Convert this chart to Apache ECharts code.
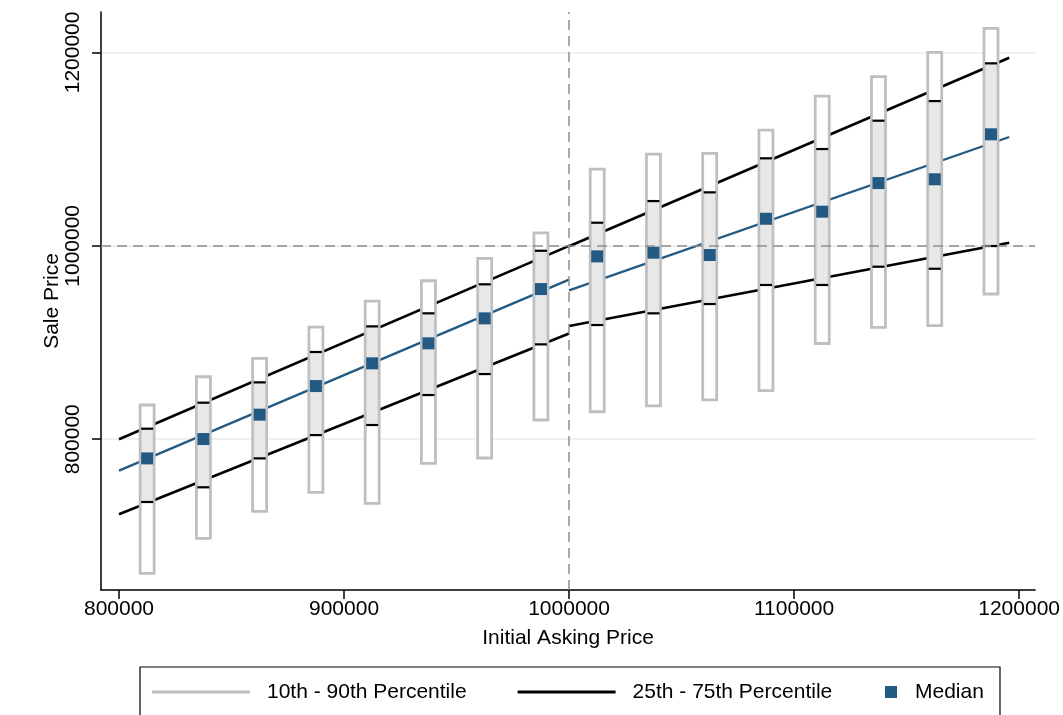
<!DOCTYPE html>
<html>
<head>
<meta charset="utf-8">
<title>Sale Price vs Initial Asking Price</title>
<script src="https://cdn.jsdelivr.net/npm/echarts@6/dist/echarts.min.js"></script>
<style>
  html, body { margin: 0; padding: 0; background: #fff; }
  #chart { width: 1063px; height: 715px; }
</style>
</head>
<body>
<div id="chart"></div>
<script>
// Bin centres of the initial asking price (25k-wide bins)
const bins = [812500, 837500, 862500, 887500, 912500, 937500, 962500, 987500,
              1012500, 1037500, 1062500, 1087500, 1112500, 1137500, 1162500, 1187500];

// Sale price percentiles within each bin
const p10 = [661300, 697500, 725400, 745000, 733700, 775100, 780600, 819900,
             828400, 834600, 840800, 850200, 899000, 915700, 917400, 950200];
const p25 = [735100, 750300, 780200, 804300, 814700, 845700, 867400, 898100,
             918100, 930200, 939800, 959500, 959500, 978400, 976300, 999800];
const median = [780200, 800200, 825400, 855000, 878500, 899200, 925000, 955300,
                989100, 992900, 990500, 1028000, 1035300, 1064900, 1068800, 1115300];
const p75 = [810900, 837800, 858800, 890200, 916700, 930200, 960200, 994900,
             1023900, 1046300, 1055300, 1090500, 1100100, 1129400, 1149700, 1188700];
const p90 = [835400, 864600, 883600, 916000, 942900, 963900, 987100, 1013500,
             1079400, 1094900, 1095700, 1119700, 1154900, 1174900, 1200100, 1224900];

// Fitted lines, split at the 1,000,000 asking-price threshold
const fitLeftX = [800000, 1000000];
const fitRightX = [1000000, 1195600];
const fitP75Left = [800000, 1000000];
const fitP75Right = [999500, 1194500];
const fitMedLeft = [767500, 965000];
const fitMedRight = [954000, 1112500];
const fitP25Left = [722500, 909300];
const fitP25Right = [917000, 1003200];

// Axis ticks
const xTicks = [800000, 900000, 1000000, 1100000, 1200000];
const yTicks = [800000, 1000000, 1200000];
const threshold = 1000000;

const FONT = 'Liberation Sans, Arial, Helvetica, sans-serif';
const BLUE = '#225a83';
const GREY_OUTLINE = '#bfbfbf';
const GREY_FILL = '#e8e8e8';

function pairs(xs, ys) { return xs.map((x, i) => [x, ys[i]]); }

function fitSeries(name, xs, ys, color, width, extra) {
  return Object.assign({
    name: name,
    type: 'line',
    data: pairs(xs, ys),
    showSymbol: false,
    symbol: 'none',
    silent: true,
    lineStyle: { color: color, width: width },
    itemStyle: { color: color },
    z: 2
  }, extra || {});
}

const chart = echarts.init(document.getElementById('chart'), null, { renderer: 'canvas' });

const option = {
  animation: false,
  backgroundColor: '#fff',
  textStyle: { fontFamily: FONT, color: '#000' },
  grid: { left: 101, right: 27, top: 12, bottom: 125, containLabel: false },
  xAxis: {
    type: 'value',
    min: 792000,
    max: 1207100,
    name: 'Initial Asking Price',
    nameLocation: 'middle',
    nameGap: 38,
    nameTextStyle: { fontFamily: FONT, fontSize: 21, color: '#000' },
    axisLine: { show: true, onZero: false, lineStyle: { color: '#000', width: 1.5 } },
    axisTick: { show: true, inside: false, length: 9, customValues: xTicks,
                lineStyle: { color: '#000', width: 1.5 } },
    axisLabel: { customValues: xTicks, margin: 9, fontFamily: FONT, fontSize: 21, color: '#000',
                 formatter: v => String(v) },
    splitLine: { show: false }
  },
  yAxis: {
    type: 'value',
    min: 644100,
    max: 1241800,
    name: 'Sale Price',
    nameLocation: 'middle',
    nameGap: 38,
    nameMoveOverlap: false,
    nameRotate: 90,
    nameTextStyle: { fontFamily: FONT, fontSize: 21, color: '#000' },
    axisLine: { show: true, onZero: false, lineStyle: { color: '#000', width: 1.5 } },
    axisTick: { show: true, inside: false, length: 9, customValues: yTicks,
                lineStyle: { color: '#000', width: 1.5 } },
    axisLabel: { customValues: yTicks, rotate: 90, margin: 17, fontFamily: FONT, fontSize: 21,
                 color: '#000', formatter: v => String(v) },
    splitLine: { show: true, lineStyle: { color: '#ebebeb', width: 1.5 } }
  },
  legend: [
    {
      left: 152, top: 680, padding: 0,
      orient: 'horizontal',
      itemWidth: 98, itemHeight: 3, itemGap: 51,
      selectedMode: false,
      textStyle: { fontFamily: FONT, fontSize: 21, color: '#000', lineHeight: 24, padding: [0, 0, 0, 12] },
      data: [
        { name: '10th - 90th Percentile', icon: 'rect', itemStyle: { color: GREY_OUTLINE, borderWidth: 0 } },
        { name: '25th - 75th Percentile', icon: 'rect', itemStyle: { color: '#000', borderWidth: 0 } }
      ]
    },
    {
      left: 885, top: 680, padding: 0,
      itemWidth: 12, itemHeight: 12,
      selectedMode: false,
      textStyle: { fontFamily: FONT, fontSize: 21, color: '#000', lineHeight: 24, padding: [0, 0, 0, 13] },
      data: [
        { name: 'Median', icon: 'rect', itemStyle: { color: BLUE, borderWidth: 0 } }
      ]
    }
  ],
  graphic: [
    {
      type: 'rect',
      shape: { x: 140, y: 667, width: 860, height: 70 },
      style: { fill: 'none', stroke: '#000', lineWidth: 1.2 },
      silent: true
    }
  ],
  series: [
    fitSeries('25th - 75th Percentile', fitLeftX, fitP75Left, '#000', 2.6, {
      markLine: {
        silent: true,
        symbol: ['none', 'none'],
        label: { show: false },
        lineStyle: { color: '#8f8f8f', width: 1.5, type: [10, 6] },
        data: [{ xAxis: threshold }, { yAxis: threshold }]
      }
    }),
    fitSeries('25th - 75th Percentile', fitRightX, fitP75Right, '#000', 2.6),
    fitSeries('25th - 75th Percentile', fitLeftX, fitP25Left, '#000', 2.6),
    fitSeries('25th - 75th Percentile', fitRightX, fitP25Right, '#000', 2.6),
    fitSeries('Median fit', fitLeftX, fitMedLeft, BLUE, 2.3),
    fitSeries('Median fit', fitRightX, fitMedRight, BLUE, 2.3),
    {
      // 10th-90th percentile range: outlined white bars
      name: '10th - 90th Percentile',
      type: 'custom',
      silent: true,
      z: 3,
      data: bins.map((b, i) => [b, p10[i], p90[i]]),
      encode: { x: 0, y: [1, 2] },
      renderItem: function (params, api) {
        const top = api.coord([api.value(0), api.value(2)]);
        const bot = api.coord([api.value(0), api.value(1)]);
        return {
          type: 'rect',
          shape: { x: top[0] - 7, y: top[1], width: 14, height: bot[1] - top[1] },
          style: { fill: '#fff', stroke: GREY_OUTLINE, lineWidth: 2.8 }
        };
      }
    },
    {
      // 25th-75th percentile range: shaded bars with black caps
      name: '25th - 75th Percentile',
      type: 'custom',
      silent: true,
      z: 3,
      data: bins.map((b, i) => [b, p25[i], p75[i]]),
      encode: { x: 0, y: [1, 2] },
      renderItem: function (params, api) {
        const top = api.coord([api.value(0), api.value(2)]);
        const bot = api.coord([api.value(0), api.value(1)]);
        const cx = top[0];
        return {
          type: 'group',
          children: [
            {
              type: 'rect',
              shape: { x: cx - 6, y: top[1], width: 12, height: bot[1] - top[1] },
              style: { fill: GREY_FILL, stroke: '#c4c4c4', lineWidth: 0.8 }
            },
            {
              type: 'line',
              shape: { x1: cx - 6, y1: top[1], x2: cx + 6, y2: top[1] },
              style: { stroke: '#000', lineWidth: 2.2 }
            },
            {
              type: 'line',
              shape: { x1: cx - 6, y1: bot[1], x2: cx + 6, y2: bot[1] },
              style: { stroke: '#000', lineWidth: 2.2 }
            }
          ]
        };
      }
    },
    {
      name: 'Median',
      type: 'scatter',
      silent: true,
      z: 4,
      symbol: 'rect',
      symbolSize: 12,
      itemStyle: { color: BLUE, opacity: 1 },
      data: pairs(bins, median)
    }
  ]
};

chart.setOption(option);
</script>
</body>
</html>
